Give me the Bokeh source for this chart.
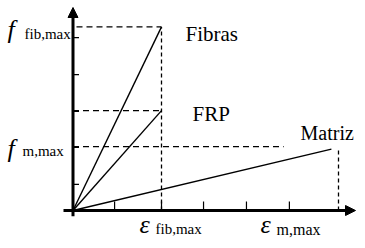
from bokeh.plotting import figure
from bokeh.models import Range1d, Label, Arrow, NormalHead, ColumnDataSource
from bokeh.embed import file_html
from bokeh.resources import INLINE

# ---- data (arbitrary units) ----
series_names = ["Fibras", "FRP", "Matriz"]
series_strain = [2.0, 2.0, 5.84]      # strain at end of each line
series_stress = [5.0, 2.72, 1.67]     # stress at end of each line
eps_fib_max = 2.0
eps_m_max = 6.0
f_fib_max = 5.0
f_m_max = 1.74
f_m_dash_end = 4.76
x_ticks = [0.94, 2.0, 2.95, 3.92, 4.89]
y_ticks = [0.71, 1.72, 2.70, 3.70, 4.71]

# ---- pixel <-> data helpers (layout only, reference-pixel based) ----
def px2x(X):
    return (X - 76.5) / 44.25

def px2y(Y):
    return (222.0 - Y) / 37.8

W, H = 357, 240          # fits the 365x248 window with its 8px margin
DX = 4                   # horizontal shift of the layout
K = 203.0 / 209.0        # slight vertical squeeze so the bottom labels fit
UY = 37.8 * K
Y0 = 210.0               # canvas row of the x axis
p = figure(width=W, height=H, output_backend="svg", toolbar_location=None,
           x_range=Range1d(px2x(DX), px2x(DX + W)),
           y_range=Range1d((Y0 - H) / UY, Y0 / UY),
           min_border=0)
p.axis.visible = False
p.grid.visible = False
p.outline_line_color = None
p.background_fill_color = "white"
p.border_fill_color = "white"

SERIF = "Liberation Serif"

# dashed guides
dash_h = dict(line_color="black", line_width=1.3, line_dash="6 4")
dash_v = dict(line_color="black", line_width=1.3, line_dash="4 3")
p.line([px2x(80), eps_fib_max], [f_fib_max, f_fib_max], **dash_h)
p.line([0, eps_fib_max], [series_stress[1], series_stress[1]], **dash_h)
p.line([0, f_m_dash_end], [f_m_max, f_m_max], **dash_h)
p.line([eps_fib_max, eps_fib_max], [0, f_fib_max], **dash_v)
p.line([eps_m_max, eps_m_max], [0, series_stress[2]], **dash_v)

# material lines
src = ColumnDataSource(dict(x0=[0] * 3, y0=[0] * 3, x1=series_strain, y1=series_stress))
p.segment("x0", "y0", "x1", "y1", source=src, line_color="black", line_width=1.4)

# ticks
tx = 6.0 / 44.25
ty = 9.0 / UY
p.segment(x_ticks, [0] * len(x_ticks), x_ticks, [ty] * len(x_ticks),
          line_color="black", line_width=1.2)
p.segment([0] * len(y_ticks), y_ticks, [tx] * len(y_ticks), y_ticks,
          line_color="black", line_width=1.2)

# axes with arrows
p.add_layout(Arrow(end=NormalHead(size=10, fill_color="black", line_color="black", line_width=1),
                   x_start=px2x(67), y_start=0, x_end=px2x(359), y_end=0,
                   line_width=3, line_color="black"))
p.add_layout(Arrow(end=NormalHead(size=10, fill_color="black", line_color="black", line_width=1),
                   x_start=0, y_start=px2y(228), x_end=0, y_end=px2y(13),
                   line_width=3, line_color="black"))

def lab(text, X, Y, size, style="normal"):
    p.add_layout(Label(x=px2x(X), y=px2y(Y), text=text, text_font=SERIF,
                       text_font_size=f"{size}px", text_font_style=style,
                       text_color="black", text_align="left", text_baseline="alphabetic"))

# series labels
lab(series_names[0], 189, 40, 21)
lab(series_names[1], 196, 123, 21)
lab(series_names[2], 304, 142, 20)

# axis labels
lab("f", 11, 36, 26, "italic")
lab("fib,max", 28, 40, 15)
lab("f", 11, 158, 26, "italic")
lab("m,max", 26, 161, 15)
lab("ε", 143, 236.5, 26, "italic")
lab("fib,max", 159, 241.5, 15)
lab("ε", 264, 236.5, 26, "italic")
lab("m,max", 280, 241.5, 16)

open("out.html", "w").write(file_html(p, INLINE))
